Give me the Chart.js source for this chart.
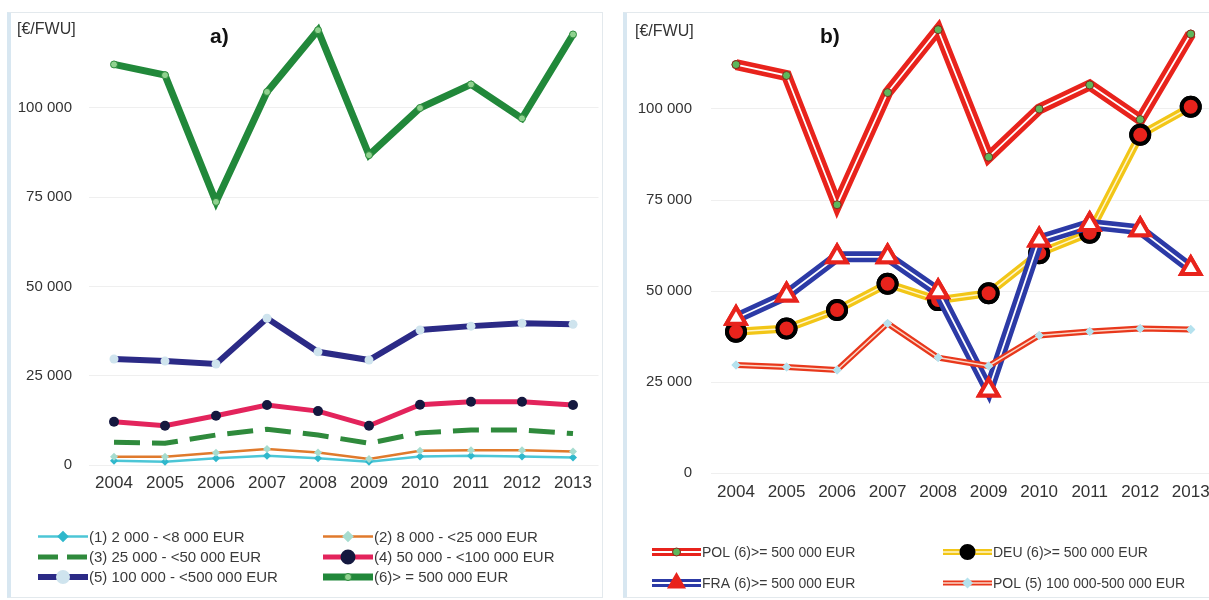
<!DOCTYPE html>
<html>
<head>
<meta charset="utf-8">
<title>FWU charts</title>
<script src="https://cdn.jsdelivr.net/npm/chart.js@4.4.1/dist/chart.umd.min.js"></script>
<style>
  html, body { margin: 0; padding: 0; background: #fff; width: 1209px; height: 600px; overflow: hidden; }
  body { position: relative; }
  .frame { position: absolute; top: 12px; height: 586px; box-sizing: border-box;
           border: 1px solid #e3e9ed; border-left: 4px solid #d8e7f1; }
  #frameA { left: 7px; width: 596px; }
  #frameB { left: 623px; width: 620px; }
  canvas { position: absolute; top: 13px; }
  #chartA { left: 10px; }
  #chartB { left: 627px; }
</style>
</head>
<body>
<div class="frame" id="frameA"></div>
<div class="frame" id="frameB"></div>
<canvas id="chartA" width="591" height="584"></canvas>
<canvas id="chartB" width="600" height="584"></canvas>
<script>
(function () {
  var years = ['2004', '2005', '2006', '2007', '2008', '2009', '2010', '2011', '2012', '2013'];

  // economic size classes (Poland), panel a
  var cls1 = [1200, 900, 1900, 2600, 1900, 900, 2400, 2600, 2400, 2100];
  var cls2 = [2300, 2300, 3400, 4500, 3500, 1700, 4000, 4100, 4100, 3800];
  var cls3 = [6400, 6100, 8400, 10000, 8400, 6100, 9000, 9800, 9800, 8800];
  var cls4 = [12100, 11000, 13800, 16800, 15100, 11000, 16900, 17700, 17700, 16800];
  var cls5 = [29700, 29100, 28300, 41100, 31700, 29400, 37800, 38900, 39700, 39400];
  var cls6 = [112200, 109200, 73700, 104500, 121800, 86800, 100000, 106600, 97100, 120600];

  // largest farms by country, panel b
  var deu6 = [38800, 39700, 44800, 52000, 47500, 49400, 60400, 66000, 92900, 100600];
  var fra6 = [42500, 48900, 59400, 59400, 49800, 22800, 64000, 68300, 66800, 56200];

  var labelsA = [
    '(1) 2 000 - <8 000 EUR',
    '(2) 8 000 - <25 000 EUR',
    '(3) 25 000 - <50 000 EUR',
    '(4) 50 000 - <100 000 EUR',
    '(5) 100 000 - <500 000 EUR',
    '(6)> = 500 000 EUR'
  ];
  var labelsB = [
    'POL (6)>= 500 000 EUR',
    'DEU (6)>= 500 000 EUR',
    'FRA (6)>= 500 000 EUR',
    'POL (5) 100 000-500 000 EUR'
  ];

  var yMax = 125000;
  var yStep = 25000;

  Chart.defaults.font.family = "'Liberation Sans', Arial, sans-serif";
  Chart.defaults.color = '#333';

  function fmtTick(v) {
    if (v >= yMax) return null;
    return String(v).replace(/\B(?=(\d{3})+(?!\d))/g, ' ');
  }

  // white core stroke for "double" lines, then markers again on top
  var compoundLine = {
    id: 'compoundLine',
    afterDatasetDraw: function (chart, args) {
      var ds = chart.data.datasets[args.index];
      if (!ds.innerColor) return;
      var ctx = chart.ctx;
      var pts = args.meta.data;
      ctx.save();
      ctx.strokeStyle = ds.innerColor;
      ctx.lineWidth = ds.innerWidth;
      ctx.lineJoin = 'miter';
      ctx.beginPath();
      pts.forEach(function (p, i) {
        if (i === 0) ctx.moveTo(p.x, p.y);
        else ctx.lineTo(p.x, p.y);
      });
      ctx.stroke();
      ctx.restore();
      pts.forEach(function (p) { p.draw(ctx, chart.chartArea); });
    }
  };

  function drawMarker(ctx, ds, r, x, y) {
    ctx.fillStyle = ds.legendPointColor || ds.pointBackgroundColor;
    ctx.strokeStyle = ds.pointBorderColor || ds.pointBackgroundColor;
    ctx.lineWidth = ds.legendPointBorder != null ? ds.legendPointBorder : (ds.pointBorderWidth || 0);
    if (Chart.helpers && Chart.helpers.drawPoint) {
      Chart.helpers.drawPoint(ctx, {
        pointStyle: ds.pointStyle || 'circle',
        radius: r,
        rotation: 0,
        borderWidth: ctx.lineWidth
      }, x, y);
    } else {
      ctx.beginPath();
      ctx.arc(x, y, r, 0, Math.PI * 2);
      ctx.fill();
    }
  }

  // two-column legend under the plot
  var gridLegend = {
    id: 'gridLegend',
    afterDraw: function (chart, args, opts) {
      var ctx = chart.ctx;
      chart.data.datasets.forEach(function (ds, i) {
        var x0 = opts.cols[i % 2];
        var y = opts.rows[Math.floor(i / 2)];
        var x1 = x0 + opts.sampleWidth;
        ctx.save();
        ctx.strokeStyle = ds.borderColor;
        ctx.lineWidth = ds.legendWidth || ds.borderWidth;
        ctx.setLineDash(ds.legendDash || []);
        ctx.beginPath();
        ctx.moveTo(x0, y);
        ctx.lineTo(x1, y);
        ctx.stroke();
        ctx.setLineDash([]);
        if (ds.innerColor) {
          ctx.strokeStyle = ds.innerColor;
          ctx.lineWidth = ds.innerWidth;
          ctx.beginPath();
          ctx.moveTo(x0, y);
          ctx.lineTo(x1, y);
          ctx.stroke();
        }
        if (ds.legendRadius) {
          drawMarker(ctx, ds, ds.legendRadius, (x0 + x1) / 2, y);
        }
        ctx.fillStyle = '#3a3a3a';
        ctx.font = opts.font;
        ctx.textBaseline = 'middle';
        ctx.textAlign = 'left';
        ctx.fillText(opts.labels[i], x1 + 1, y + 1);
        ctx.restore();
      });
    }
  };

  var panelText = {
    id: 'panelText',
    afterDraw: function (chart, args, opts) {
      var ctx = chart.ctx;
      ctx.save();
      ctx.fillStyle = '#333';
      ctx.textBaseline = 'middle';
      ctx.textAlign = 'left';
      ctx.font = "16px 'Liberation Sans', Arial, sans-serif";
      ctx.fillText('[€/FWU]', opts.unitX, opts.unitY);
      ctx.fillStyle = '#111';
      ctx.font = "bold 21px 'Liberation Sans', Arial, sans-serif";
      ctx.fillText(opts.tag, opts.tagX, opts.tagY);
      ctx.restore();
    }
  };

  function line(data, o) {
    var ds = {
      data: data,
      borderColor: o.color,
      borderWidth: o.width,
      borderDash: o.dash || [],
      borderJoinStyle: 'miter',
      tension: 0,
      fill: false,
      clip: false,
      pointStyle: o.pointStyle || 'circle',
      pointRadius: o.radius || 0,
      pointHoverRadius: o.radius || 0,
      pointBackgroundColor: o.pointColor || o.color,
      pointBorderColor: o.pointBorder || o.pointColor || o.color,
      pointBorderWidth: o.pointBorderWidth || 0,
      legendRadius: o.legendRadius != null ? o.legendRadius : (o.radius || 0),
      legendDash: o.legendDash,
      legendWidth: o.legendWidth,
      legendPointColor: o.legendPointColor,
      legendPointBorder: o.legendPointBorder,
      order: o.order
    };
    if (o.inner) {
      ds.innerColor = o.inner;
      ds.innerWidth = o.innerWidth || 1.5;
    }
    return ds;
  }

  function makeChart(id, datasets, cfg) {
    return new Chart(document.getElementById(id), {
      type: 'line',
      data: { labels: years, datasets: datasets },
      options: {
        responsive: false,
        animation: false,
        events: [],
        layout: {
          autoPadding: false,
          padding: { left: 0, right: cfg.padRight, top: cfg.padTop, bottom: cfg.padBottom }
        },
        plugins: {
          legend: { display: false },
          tooltip: { enabled: false },
          gridLegend: cfg.legend,
          panelText: cfg.text
        },
        scales: {
          x: {
            offset: true,
            grid: { display: false, drawTicks: false },
            border: { display: false },
            ticks: { color: '#333', font: { size: 17 }, padding: cfg.xPad, maxRotation: 0, autoSkip: false },
            afterFit: function (s) { s.height = 40; s.paddingLeft = 0; s.paddingRight = 0; }
          },
          y: {
            min: 0,
            max: yMax,
            grid: { color: '#efefef', drawTicks: false },
            border: { display: false },
            ticks: { stepSize: yStep, callback: fmtTick, color: '#333', font: { size: 15 }, padding: cfg.yPad },
            afterFit: function (s) { s.width = cfg.yWidth; s.paddingTop = 0; s.paddingBottom = 0; }
          }
        }
      },
      plugins: [compoundLine, gridLegend, panelText]
    });
  }

  makeChart('chartA', [
    line(cls1, { color: '#4cc6d6', width: 2.5, pointStyle: 'rectRot', radius: 4, pointColor: '#2fb8cc', order: 6 }),
    line(cls2, { color: '#e07a2c', width: 2.5, pointStyle: 'rectRot', radius: 4, pointColor: '#a6dccf', order: 5 }),
    line(cls3, { color: '#2f8a3c', width: 5, dash: [26, 12], legendDash: [20, 9], radius: 0, order: 4 }),
    line(cls4, { color: '#e3245c', width: 5, radius: 5, pointColor: '#15183f', order: 3 }),
    line(cls5, { color: '#2b2a86', width: 6, radius: 4.5, pointColor: '#cfe4ee', legendRadius: 4, order: 2 }),
    line(cls6, { color: '#21883a', width: 7, radius: 3.5, pointColor: '#8fd28f', pointBorder: '#2e8b3e', pointBorderWidth: 1, order: 1 })
  ], {
    padRight: 2.5, padTop: 5.75, padBottom: 92, yWidth: 78.5, yPad: 16.5, xPad: 8,
    legend: { cols: [28, 313], rows: [523.5, 544, 564], sampleWidth: 50, labels: labelsA,
              font: "15px 'Liberation Sans', Arial, sans-serif" },
    text: { unitX: 7, unitY: 17, tag: 'a)', tagX: 200, tagY: 24 }
  });

  makeChart('chartB', [
    line(cls6, { color: '#e8231c', width: 11, inner: '#ffffff', innerWidth: 1.8, radius: 4, pointColor: '#5cb85c', pointBorder: '#8a2a1a', pointBorderWidth: 1, legendWidth: 8, order: 4 }),
    line(deu6, { color: '#f2c617', width: 8, inner: '#fff6cc', innerWidth: 1.5, radius: 9, pointColor: '#e8231c', pointBorder: '#000000', pointBorderWidth: 4, legendWidth: 6, legendRadius: 6, legendPointColor: '#000000', order: 3 }),
    line(fra6, { color: '#2c3aa6', width: 11, inner: '#ffffff', innerWidth: 1.8, pointStyle: 'triangle', radius: 11, pointColor: '#ffffff', pointBorder: '#e8231c', pointBorderWidth: 4, legendWidth: 8, legendRadius: 7, legendPointColor: '#e8231c', order: 2 }),
    line(cls5, { color: '#e8381c', width: 6, inner: '#fbd7c7', innerWidth: 1.5, pointStyle: 'rectRot', radius: 4.5, pointColor: '#b5e2ee', legendWidth: 5, order: 1 })
  ], {
    padRight: 11, padTop: 5, padBottom: 84, yWidth: 83.75, yPad: 18.75, xPad: 9,
    legend: { cols: [25, 316], rows: [539, 570], sampleWidth: 49, labels: labelsB,
              font: "14px 'Liberation Sans', Arial, sans-serif" },
    text: { unitX: 8, unitY: 19, tag: 'b)', tagX: 193, tagY: 24 }
  });
})();
</script>
</body>
</html>
